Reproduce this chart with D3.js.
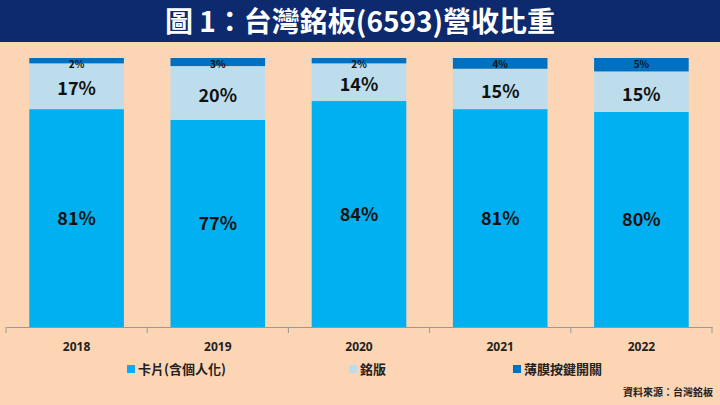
<!DOCTYPE html>
<html><head><meta charset="utf-8">
<script src="https://cdn.jsdelivr.net/npm/d3@7"></script>
<style>body{margin:0;background:#FCD5B5;}svg{display:block;font-family:"Noto Sans CJK TC","Noto Sans",sans-serif;}</style>
</head><body>
<svg id="c" width="720" height="405"></svg>
<script>
var years = ["2018", "2019", "2020", "2021", "2022"];
var cards = [81, 77, 84, 81, 80];
var plates = [17, 20, 14, 15, 15];
var switches = [2, 3, 2, 4, 5];
var seriesNames = ["卡片(含個人化)", "銘版", "薄膜按鍵開關"];
var colors = ["#00B0F0", "#BDDDEC", "#0070C0"];

var svg = d3.select("#c");
svg.append("rect").attr("width", 720).attr("height", 405).attr("fill", "#FCD5B5");
svg.append("rect").attr("width", 720).attr("height", 42).attr("fill", "#0D2A6E");
svg.append("text").attr("x", 360).attr("y", 32).attr("text-anchor", "middle")
    .attr("fill", "#fff").attr("font-size", 28).attr("font-weight", "bold")
    .text("圖 1：台灣銘板(6593)營收比重");

var rows = years.map(function(y, i) {
    return {year: y, s0: cards[i], s1: plates[i], s2: switches[i]};
});
var stack = d3.stack().keys(["s0", "s1", "s2"])(rows);

var x = d3.scaleBand().domain(years).range([6, 712]).paddingInner(0.33).paddingOuter(0.165);
var y = d3.scaleLinear().domain([0, 100]).range([327, 58]);

stack.forEach(function(layer, k) {
    var g = svg.append("g");
    g.selectAll("rect").data(layer).enter().append("rect")
        .attr("x", function(d) { return x(d.data.year); })
        .attr("width", x.bandwidth())
        .attr("y", function(d) { return y(d[1]); })
        .attr("height", function(d) { return y(d[0]) - y(d[1]); })
        .attr("fill", colors[k]);
    g.selectAll("text").data(layer).enter().append("text")
        .attr("x", function(d) { return x(d.data.year) + x.bandwidth() / 2; })
        .attr("y", function(d) {
            return k == 2 ? y(d[1]) + 10 : (y(d[0]) + y(d[1])) / 2 + 7 + (k == 1 ? 2 : 0);
        })
        .attr("text-anchor", "middle").attr("font-weight", "bold")
        .attr("font-size", k == 2 ? 10 : 18).attr("fill", "#111")
        .text(function(d) { return (d[1] - d[0]) + "%"; });
});

var axis = svg.append("g").attr("transform", "translate(0,327)")
    .call(d3.axisBottom(x).tickSize(0).tickPadding(15));
axis.select(".domain").attr("stroke", "#999");
axis.selectAll("text").attr("font-size", 12).attr("font-weight", "bold").attr("fill", "#222")
    .attr("font-family", "'Noto Sans',sans-serif");
svg.selectAll(".sep").data(d3.range(years.length + 1)).enter().append("line")
    .attr("x1", function(i) { return 6 + i * (706 / years.length); })
    .attr("x2", function(i) { return 6 + i * (706 / years.length); })
    .attr("y1", 327).attr("y2", 333).attr("stroke", "#999");

var legendStarts = [127, 349, 513];
seriesNames.forEach(function(n, i) {
    var px = legendStarts[i];
    svg.append("rect").attr("x", px).attr("y", 365).attr("width", 8).attr("height", 8).attr("fill", colors[i]);
    svg.append("text").attr("x", px + 11).attr("y", 374).attr("font-size", 13).attr("font-weight", "bold")
        .attr("fill", "#222").text(n);
});
svg.append("text").attr("x", 713).attr("y", 396).attr("text-anchor", "end").attr("font-size", 10)
    .attr("font-weight", "bold").attr("fill", "#222").text("資料來源：台灣銘板");
</script>
</body></html>
